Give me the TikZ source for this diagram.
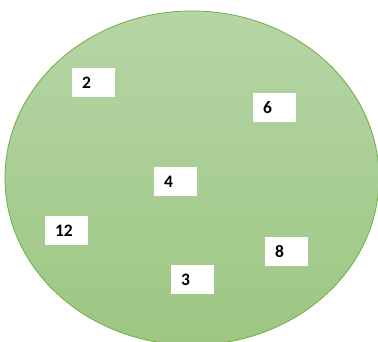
\documentclass[tikz,border=0pt]{standalone}
\usepackage{fontspec}
\setmainfont{Carlito}
\usepackage{tikz}
\usetikzlibrary{positioning}
\definecolor{poolTop}{RGB}{182,213,166}
\definecolor{poolBottom}{RGB}{156,199,130}
\definecolor{poolLine}{RGB}{112,173,71}
\tikzset{
  pool/.style={draw=poolLine,line width=.8pt,top color=poolTop,bottom color=poolBottom},
  number box/.style={fill=white,text width=23pt,inner xsep=10pt,inner ysep=0pt,
    minimum height=29pt,align=left,font=\fontsize{17.5}{17.5}\selectfont\bfseries}
}

\begin{document}
\begin{tikzpicture}[x=1pt,y=-1pt]
  \useasboundingbox (0,0) rectangle (378,342);
  \clip (0,0) rectangle (378,342);
  \path[pool] (192,178) ellipse [x radius=187,y radius=167];

  \node[number box] (n2)  at ( 93.5, 82.5) {2};
  \node[number box] (n6)  at (274.5,107.5) {6};
  \node[number box] (n4)  at (175.5,181.5) {4};
  \node[number box] (n12) at ( 66.5,230.5) {12};
  \node[number box] (n8)  at (286.5,251.5) {8};
  \node[number box] (n3)  at (192.5,279.5) {3};
\end{tikzpicture}
\end{document}
